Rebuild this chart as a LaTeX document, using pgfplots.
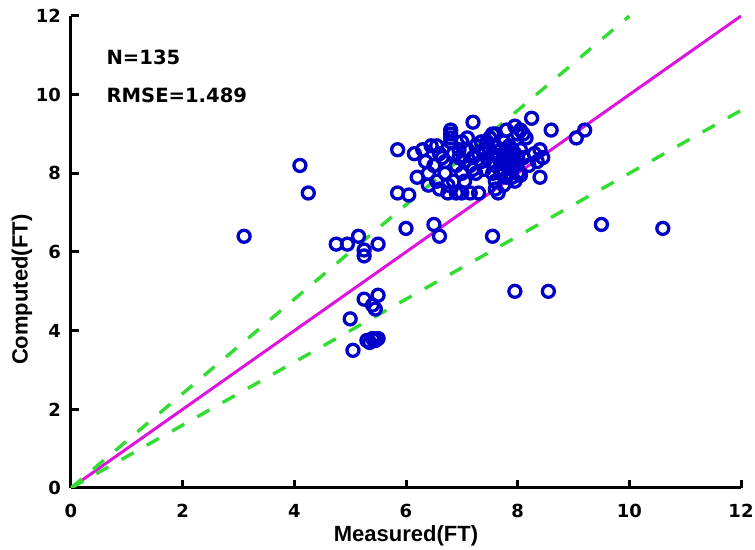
\documentclass[border=0pt]{standalone}
\usepackage{pgfplots}
\pgfplotsset{compat=1.18}
\usepackage{pgfplotstable}
\usepackage{fontspec}
\setmainfont{DejaVu Sans}
\newfontfamily\labfont{Liberation Sans}
\definecolor{mk}{RGB}{0,0,200}
\definecolor{mag}{RGB}{220,20,220}
\definecolor{grn}{RGB}{50,220,50}
\pgfplotstableread{
x y
5.05 3.5
5.3 3.75
5.35 3.7
5.4 3.8
5.45 3.75
5.5 3.8
5.0 4.3
5.25 4.8
5.4 4.65
5.45 4.55
5.5 4.9
3.1 6.4
4.75 6.2
4.95 6.2
5.15 6.4
5.25 6.05
5.25 5.9
5.5 6.2
6.0 6.6
6.5 6.7
6.6 6.4
7.55 6.4
7.95 5.0
8.55 5.0
9.5 6.7
10.6 6.6
4.1 8.2
4.25 7.5
5.85 7.5
5.85 8.6
9.05 8.9
9.2 9.1
8.6 9.1
8.25 9.4
7.2 9.3
8.4 7.9
8.45 8.4
8.4 8.6
6.05 7.45
6.15 8.5
6.2 7.9
6.3 8.6
6.35 8.3
6.4 8.0
6.45 8.7
6.5 8.2
6.55 8.7
6.55 7.8
6.6 7.6
6.4 7.7
6.65 8.4
6.7 8.3
6.7 8.0
6.75 7.7
6.75 7.5
6.8 9.1
6.8 9.0
6.8 8.9
6.8 8.8
6.85 8.5
6.9 8.2
6.9 7.5
6.95 8.4
7.0 8.8
7.0 8.0
7.0 7.5
7.05 8.3
7.05 7.8
7.1 8.9
7.1 8.6
7.15 7.5
7.2 8.4
7.2 8.1
7.25 8.0
7.25 8.7
7.3 8.5
7.3 7.5
7.35 8.8
7.35 8.3
7.4 8.6
7.4 8.1
7.45 8.4
7.5 8.6
7.5 8.3
7.5 8.9
7.55 9.0
7.55 8.5
7.55 8.0
7.6 8.7
7.6 8.2
7.6 7.8
7.6 7.6
7.65 7.5
7.65 8.4
7.7 8.6
7.7 8.3
7.7 8.0
7.75 8.5
7.75 8.8
7.8 9.1
7.8 8.6
7.8 8.4
7.8 8.2
7.8 7.9
7.85 8.7
7.85 8.5
7.85 8.3
7.9 8.6
7.9 8.4
7.9 8.1
7.9 7.9
7.95 9.2
7.95 8.5
7.95 8.3
8.0 8.4
8.0 8.0
8.0 9.0
7.85 8.0
7.75 7.7
8.05 9.1
8.1 9.0
8.15 8.9
8.05 8.6
8.1 8.4
8.2 8.2
8.3 8.5
8.35 8.3
7.95 7.8
8.05 7.95
6.6 8.5
6.95 8.6
7.15 8.2
7.45 8.8
7.6 9.0
6.85 7.8
}\datatable
\begin{document}
\begin{tikzpicture}
\useasboundingbox (-35.5pt,-31pt) rectangle (342pt,244pt);
\begin{axis}[
  at={(0,0)}, anchor=south west,
  scale only axis, width=335pt, height=236pt,
  xmin=0, xmax=12, ymin=0, ymax=12,
  axis lines=left, axis line style={-, line width=1.5pt},
  xtick={0,2,...,12}, ytick={0,2,...,12},
  tick align=inside, major tick length=4pt,
  tick style={line width=1.5pt, black},
  /pgf/number format/assume math mode=true,
  ticklabel style={font=\fontsize{9}{10}\selectfont\bfseries},
  xticklabel style={yshift=-4.6pt},
  yticklabel style={xshift=-1.5pt},
  xlabel={Measured(FT)}, ylabel={Computed(FT)},
  label style={font=\labfont\fontsize{11}{12}\selectfont\bfseries},
  xlabel style={at={(axis description cs:0.5,-0.1017)}, anchor=center},
  ylabel style={at={(axis description cs:-0.0731,0.42)}, anchor=center},
]
\addplot[only marks, mark=o, mark size=3.0pt, mark options={mk, line width=1.65pt}] table[x=x, y=y] {\datatable};
\addplot[mag, line width=1.5pt] coordinates {(0,0) (12,12)};
\addplot[grn, line width=1.7pt, dash pattern=on 7pt off 7.5pt] coordinates {(0,0) (10,12)};
\addplot[grn, line width=1.7pt, dash pattern=on 7pt off 7.5pt] coordinates {(0,0) (12,9.6)};
\node[anchor=west, inner sep=0pt, font=\fontsize{9.8}{11}\selectfont\bfseries] at (axis cs:0.63,10.94) {N=135};
\node[anchor=west, inner sep=0pt, font=\fontsize{9.8}{11}\selectfont\bfseries] at (axis cs:0.63,9.97) {RMSE=1.489};
\end{axis}
\end{tikzpicture}
\end{document}
